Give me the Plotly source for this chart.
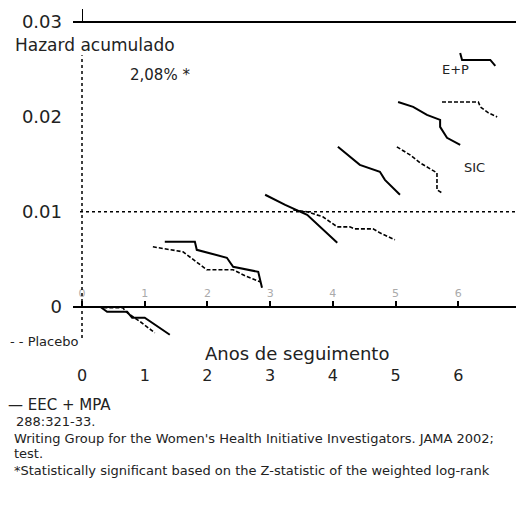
import plotly.graph_objects as go

# ---------------- data ----------------
years = [0, 1, 2, 3, 4, 5, 6]
year_labels = ["0", "1", "2", "3", "4", "5", "6"]
y_ticks = [0, 0.01, 0.02, 0.03]
y_tick_labels = ["0", "0.01", "0.02", "0.03"]

# EEC + MPA (solid) – pieces separated by None
eec_x = [0.29, 0.40, 0.72, 0.80, 1.00, 1.40, None,
         1.32, 1.80, 1.83, 2.31, 2.41, 2.81, 2.87, None,
         2.92, 3.24, 3.59, 4.07, None,
         4.08, 4.43, 4.75, 4.83, 5.07, None,
         5.04, 5.28, 5.50, 5.71, 5.71, 5.82, 6.03, None,
         6.03, 6.06, 6.51, 6.59]
eec_y = [0.0, -0.00053, -0.00053, -0.00116, -0.00116, -0.00295, None,
         0.00684, 0.00684, 0.0060, 0.00516, 0.00421, 0.00368, 0.0020, None,
         0.0118, 0.01074, 0.00969, 0.00674, None,
         0.01685, 0.01495, 0.01422, 0.01337, 0.0118, None,
         0.02158, 0.02106, 0.02021, 0.01969, 0.01895, 0.0178, 0.01706, None,
         0.02674, 0.026, 0.026, 0.02537]

# Placebo (dashed)
plc_x = [0.34, 0.65, 0.72, 0.93, 1.16, None,
         1.13, 1.61, 1.99, 2.41, 2.60, 2.84, None,
         3.37, 3.59, 3.84, 4.07, 4.27, 4.35, 4.64, 4.75, 4.99, None,
         5.02, 5.23, 5.39, 5.66, 5.66, 5.74, None,
         5.74, 6.32, 6.35, 6.48, 6.62]
plc_y = [-0.0001, -0.0001, -0.00063, -0.00158, -0.00274, None,
         0.00632, 0.00579, 0.0039, 0.0039, 0.00326, 0.00263, None,
         0.01021, 0.0100, 0.00948, 0.00842, 0.00842, 0.00821, 0.00821, 0.00779, 0.00705, None,
         0.01685, 0.0160, 0.01516, 0.01411, 0.01232, 0.0120, None,
         0.02158, 0.02158, 0.02106, 0.02043, 0.0200]

series_names = ["EEC + MPA", "Placebo"]
y_title = "Hazard acumulado"
x_title = "Anos de seguimento"
caption_lines = [
    "\u2014 EEC + MPA",
    "288:321-33.",
    "Writing Group for the Women's Health Initiative Investigators. JAMA 2002;",
    "test.",
    "*Statistically significant based on the Z-statistic of the weighted log-rank",
]

# ---------------- figure ----------------
W, H = 516, 513
TOP, BOT = 22, 340          # pixel rows of plot area
LEFT, RIGHT = 73, 516
XR = [-0.1435, 6.92]
YR = [-0.0035, 0.03]

def py(p):   # pixel row -> paper y
    return (BOT - p) / (BOT - TOP)

def px(p):   # pixel col -> paper x
    return (p - LEFT) / (RIGHT - LEFT)

FONT = "DejaVu Sans"
fig = go.Figure()
fig.add_trace(go.Scatter(x=eec_x, y=eec_y, mode="lines", name=series_names[0],
                         line=dict(color="black", width=2),
                         connectgaps=False, showlegend=False))
fig.add_trace(go.Scatter(x=plc_x, y=plc_y, mode="lines", name=series_names[1],
                         line=dict(color="black", width=1.6, dash="4px,2px"),
                         connectgaps=False, showlegend=False))
# invisible traces to drive the extra axes
fig.add_trace(go.Scatter(x=[years[0]], y=[0], xaxis="x2", mode="markers",
                         marker=dict(opacity=0), showlegend=False, hoverinfo="skip"))
fig.add_trace(go.Scatter(x=[years[0]], y=[0], xaxis="x3", mode="markers",
                         marker=dict(opacity=0), showlegend=False, hoverinfo="skip"))

fig.update_layout(
    width=W, height=H,
    margin=dict(l=LEFT, r=W - RIGHT, t=TOP, b=H - BOT, autoexpand=False),
    paper_bgcolor="white", plot_bgcolor="white",
    font=dict(family=FONT, color="black", size=15),
    showlegend=False,
    xaxis=dict(range=XR, tickvals=years, ticktext=year_labels, showline=False,
               showgrid=False, zeroline=False, ticks="", ticklabelstandoff=24,
               tickfont=dict(size=16, color="#222"), automargin=False),
    xaxis2=dict(range=XR, overlaying="x", anchor="free", position=py(307),
                side="top", showline=True, linecolor="black", linewidth=1.5,
                tickvals=years, ticktext=year_labels, ticks="outside", ticklen=5,
                tickcolor="black", tickwidth=1.5, showgrid=False, zeroline=False,
                tickfont=dict(size=11, color="#aaaaaa"), automargin=False),
    xaxis3=dict(range=XR, overlaying="x", anchor="free", position=1,
                side="top", showline=True, linecolor="black", linewidth=1.5,
                tickvals=[years[0]], ticks="outside", ticklen=12, tickcolor="black",
                showticklabels=False, showgrid=False, zeroline=False, automargin=False),
    yaxis=dict(range=YR, tickvals=y_ticks, ticktext=y_tick_labels, showline=False,
               showgrid=False, zeroline=False, ticks="", ticklabelstandoff=10,
               tickfont=dict(size=18, color="#222"), automargin=False),
)

# dotted reference lines
fig.add_shape(type="line", xref="x", yref="y", x0=0, x1=0, y0=YR[0] + 0.0002, y1=0.0265,
              line=dict(color="black", width=1.5, dash="dot"))
fig.add_shape(type="line", xref="paper", yref="y", x0=px(80), x1=1, y0=0.01, y1=0.01,
              line=dict(color="black", width=1.5, dash="dot"))

ann = []
def text(t, x, y, size=15, anchor="left", color="#222"):
    ann.append(dict(text=t, x=px(x), y=py(y), xref="paper", yref="paper",
                    xanchor=anchor, yanchor="middle", showarrow=False,
                    font=dict(size=size, color=color, family=FONT)))

text(y_title, 13, 45, 17)
text("2,08% *", 128, 75, 15)
text("E+P", 440, 70, 13)
text("SIC", 462, 167, 13)
text("- - " + series_names[1], 8, 341, 13)
text(x_title, 297, 353, 18, anchor="center")
text(caption_lines[0], 6, 405, 15)
text(caption_lines[1], 14, 421, 13)
text(caption_lines[2], 12, 438, 13)
text(caption_lines[3], 12, 453, 13)
text(caption_lines[4], 12, 470, 13)
fig.update_layout(annotations=ann)

fig.write_html("out.html", config={"displayModeBar": False},
               post_script="document.body.style.margin='0';document.body.style.overflow='hidden';")
